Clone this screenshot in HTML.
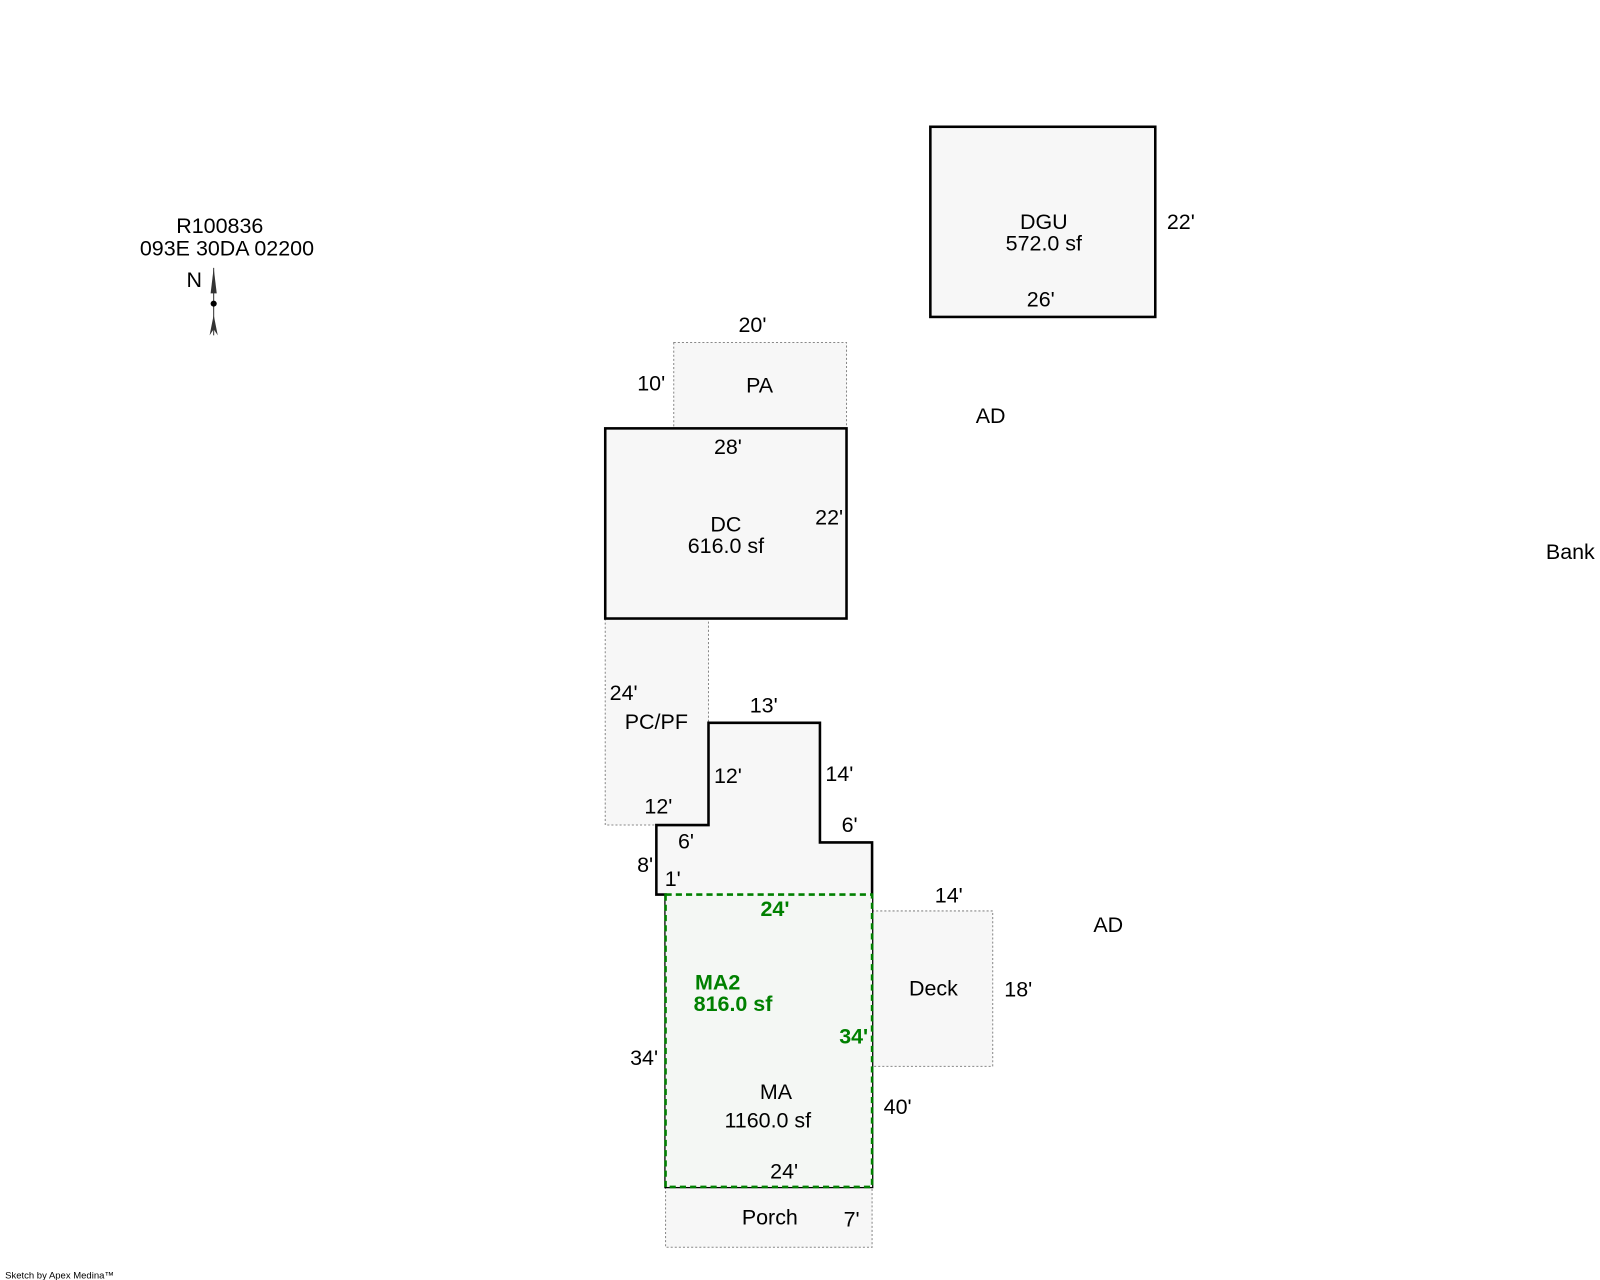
<!DOCTYPE html>
<html><head><meta charset="utf-8"><style>
html,body{margin:0;padding:0;background:#fff;}
svg{display:block;}
text{font-family:"Liberation Sans",Arial,sans-serif;font-size:21px;fill:#000;dominant-baseline:central;text-anchor:middle;}
.g{fill:#008000;font-weight:bold;}
</style></head><body>
<svg width="1600" height="1280" viewBox="0 0 1565 1252" xmlns="http://www.w3.org/2000/svg">
<rect x="0" y="0" width="1565" height="1252" fill="#fff"/>
<rect x="910" y="124" width="220" height="186" fill="#f7f7f7" stroke="#000" stroke-width="2.5"/>
<text x="1021" y="217">DGU</text><text x="1021" y="238">572.0 sf</text>
<text x="1155" y="217">22'</text><text x="1018" y="293">26'</text>
<rect x="659" y="335" width="169" height="84" fill="#f7f7f7" stroke="#888" stroke-width="1" stroke-dasharray="2,2"/>
<text x="736" y="318">20'</text><text x="637" y="375">10'</text><text x="743" y="377">PA</text>
<rect x="592" y="605" width="101" height="202" fill="#f7f7f7" stroke="#888" stroke-width="1" stroke-dasharray="2,2"/>
<rect x="853" y="891" width="118" height="152" fill="#f7f7f7" stroke="#888" stroke-width="1" stroke-dasharray="2,2"/>
<rect x="651" y="1161" width="202" height="59" fill="#f7f7f7" stroke="#888" stroke-width="1" stroke-dasharray="2,2"/>
<rect x="592" y="419" width="236" height="186" fill="#f7f7f7" stroke="#000" stroke-width="2.5"/>
<text x="712" y="437">28'</text><text x="710" y="513">DC</text><text x="710" y="534">616.0 sf</text><text x="811" y="506">22'</text>
<text x="969" y="407">AD</text><text x="1536" y="540">Bank</text>
<polygon points="693,707 802,707 802,824 853,824 853,1161 651,1161 651,875 642,875 642,807 693,807" fill="#f7f7f7" stroke="#000" stroke-width="2.5"/>
<rect x="651" y="875" width="202" height="286" fill="#f4f7f4" stroke="#008000" stroke-width="2.5" stroke-dasharray="6,4"/>
<text x="610" y="678">24'</text><text x="642" y="706">PC/PF</text><text x="644" y="789">12'</text>
<text x="747" y="690">13'</text><text x="712" y="759">12'</text><text x="821" y="757">14'</text>
<text x="831" y="807">6'</text><text x="671" y="823">6'</text><text x="631" y="846">8'</text><text x="658" y="860">1'</text>
<text class="g" x="758" y="889">24'</text><text class="g" x="702" y="961">MA2</text><text class="g" x="717" y="982">816.0 sf</text><text class="g" x="835" y="1014">34'</text>
<text x="630" y="1035">34'</text><text x="759" y="1068">MA</text><text x="751" y="1096">1160.0 sf</text>
<text x="878" y="1083">40'</text><text x="767" y="1146">24'</text>
<text x="928" y="876">14'</text><text x="913" y="967">Deck</text><text x="996" y="968">18'</text><text x="1084" y="905">AD</text>
<text x="753" y="1191">Porch</text><text x="833" y="1193">7'</text>
<text x="215" y="221">R100836</text><text x="222" y="243">093E 30DA 02200</text>
<text x="190" y="274">N</text>
<line x1="209" y1="262" x2="209" y2="328" stroke="#333" stroke-width="1"/>
<polygon points="209,262 206,287 212,287" fill="#333"/>
<polygon points="209,308 205,328 209,322 213,328" fill="#333"/>
<circle cx="209" cy="297" r="3" fill="#000"/>
<text x="5" y="1248" style="font-size:9.3px;text-anchor:start">Sketch by Apex Medina™</text>
</svg>
</body></html>
